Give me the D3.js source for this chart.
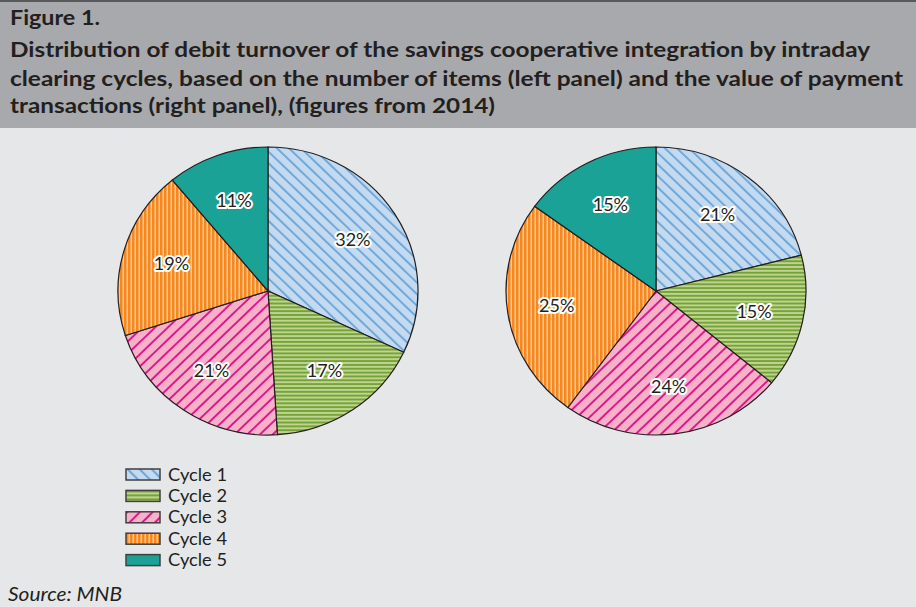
<!DOCTYPE html>
<html>
<head>
<meta charset="utf-8">
<script src="https://cdn.jsdelivr.net/npm/d3@7/dist/d3.min.js"></script>
<style>
  html, body { margin: 0; padding: 0; background: #e6e7e8; }
  svg { display: block; }
</style>
</head>
<body>
<svg id="chart" width="916" height="607"></svg>
<script>
// Intraday clearing cycles and their shares (%)
const cycles = ["Cycle 1", "Cycle 2", "Cycle 3", "Cycle 4", "Cycle 5"];
const itemShares = [32, 17, 21, 19, 11];   // by number of items
const valueShares = [21, 15, 24, 25, 15];  // by value of payment transactions

const titleLines = [
  "Figure 1.",
  "Distribution of debit turnover of the savings cooperative integration by intraday",
  "clearing cycles, based on the number of items (left panel) and the value of payment",
  "transactions (right panel), (figures from 2014)"
];
const sourceText = "Source: MNB";

const W = 916, H = 607;
const svg = d3.select("#chart");
const FONT = "Lato, 'Open Sans', sans-serif";

// background
svg.append("rect").attr("width", W).attr("height", H).attr("fill", "#e6e7e8");

// header band
svg.append("rect").attr("x", 0).attr("y", 0).attr("width", W).attr("height", 128).attr("fill", "#a7a9ac");
svg.append("rect").attr("x", 0).attr("y", 0).attr("width", W).attr("height", 2).attr("fill", "#58595b");

const titleY = [25, 57, 86, 113];
const titleW = [90, 860, 893, 485];
svg.selectAll("text.title").data(titleLines).join("text")
  .attr("class", "title")
  .attr("x", 10)
  .attr("y", (d, i) => titleY[i])
  .attr("textLength", (d, i) => titleW[i])
  .attr("lengthAdjust", "spacingAndGlyphs")
  .attr("font-family", FONT)
  .attr("font-weight", "bold")
  .attr("font-size", 20.5)
  .attr("fill", "#231f20")
  .text(d => d);

// hatch patterns for the cycles
const defs = svg.append("defs");
function hatch(id, bg, fg, angle, size, lw) {
  const p = defs.append("pattern").attr("id", id)
    .attr("patternUnits", "userSpaceOnUse")
    .attr("width", size).attr("height", size)
    .attr("patternTransform", `rotate(${angle})`);
  p.append("rect").attr("width", size).attr("height", size).attr("fill", bg);
  p.append("rect").attr("x", 0).attr("y", 0).attr("width", lw).attr("height", size).attr("fill", fg);
}
function hstripe(id, bg, fg, size, lw) {
  const p = defs.append("pattern").attr("id", id)
    .attr("patternUnits", "userSpaceOnUse")
    .attr("width", size).attr("height", size);
  p.append("rect").attr("width", size).attr("height", size).attr("fill", bg);
  p.append("rect").attr("x", 0).attr("y", 0).attr("width", size).attr("height", lw).attr("fill", fg);
}
function vstripe(id, bg, fg, size, lw) {
  const p = defs.append("pattern").attr("id", id)
    .attr("patternUnits", "userSpaceOnUse")
    .attr("width", size).attr("height", size);
  p.append("rect").attr("width", size).attr("height", size).attr("fill", bg);
  p.append("rect").attr("x", 0).attr("y", 0).attr("width", lw).attr("height", size).attr("fill", fg);
}
hatch("pat-c1", "#c3daf0", "#6fa7d8", -45, 8.5, 2);
hstripe("pat-c2", "#bdd58f", "#77a23a", 4, 2);
hatch("pat-c3", "#f7b2ca", "#e0178b", 45, 9, 2);
vstripe("pat-c4", "#fbc793", "#f5871f", 4, 2.5);
const fills = ["url(#pat-c1)", "url(#pat-c2)", "url(#pat-c3)", "url(#pat-c4)", "#1aa296"];

const color = d3.scaleOrdinal().domain(cycles).range(fills);

// pies
const R = 150, SY = 0.96;
const pie = d3.pie().sort(null).value(d => d.v);
const arc = d3.arc().innerRadius(0).outerRadius(R);
const labelArc = d3.arc().innerRadius(R * 0.67).outerRadius(R * 0.67);

function drawPie(cx, cy, values) {
  const data = pie(values.map((v, i) => ({ k: cycles[i], v })));
  const g = svg.append("g").attr("transform", `translate(${cx},${cy}) scale(1,${SY})`);
  g.selectAll("path").data(data).join("path")
    .attr("d", arc)
    .attr("fill", d => color(d.data.k))
    .attr("stroke", "#231f20")
    .attr("stroke-width", 1.2)
    .attr("vector-effect", "non-scaling-stroke");
  const lg = svg.append("g").attr("transform", `translate(${cx},${cy})`);
  lg.selectAll("text").data(data).join("text")
    .attr("x", d => labelArc.centroid(d)[0])
    .attr("y", d => labelArc.centroid(d)[1] * SY)
    .attr("dy", "0.35em")
    .attr("text-anchor", "middle")
    .attr("font-family", FONT)
    .attr("font-size", 18)
    .attr("fill", "#231f20")
    .attr("stroke", "#ffffff")
    .attr("stroke-width", 4)
    .attr("stroke-linejoin", "round")
    .attr("paint-order", "stroke")
    .text(d => d.data.v + "%");
}
drawPie(268, 291, itemShares);
drawPie(656, 291, valueShares);

// legend
const legend = svg.append("g").attr("transform", "translate(126,469)");
const row = legend.selectAll("g").data(cycles).join("g")
  .attr("transform", (d, i) => `translate(0,${i * 21.4})`);
row.append("rect")
  .attr("width", 34).attr("height", 11)
  .attr("fill", d => color(d))
  .attr("stroke", "#404041").attr("stroke-width", 1.5);
row.append("text")
  .attr("x", 42).attr("y", 11.5)
  .attr("textLength", 59)
  .attr("lengthAdjust", "spacingAndGlyphs")
  .attr("font-family", FONT)
  .attr("font-size", 18)
  .attr("fill", "#231f20")
  .text(d => d);

// source
svg.append("text")
  .attr("x", 8).attr("y", 601)
  .attr("textLength", 114)
  .attr("lengthAdjust", "spacingAndGlyphs")
  .attr("font-family", FONT)
  .attr("font-style", "italic")
  .attr("font-size", 19)
  .attr("fill", "#231f20")
  .text(sourceText);
</script>
</body>
</html>
